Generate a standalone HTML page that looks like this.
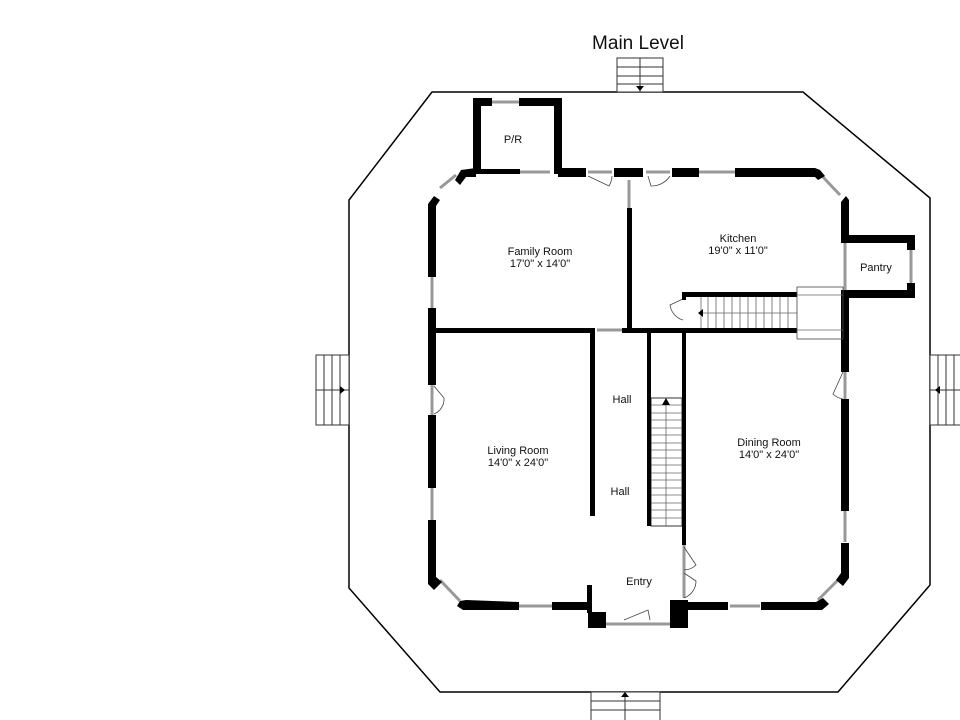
<!DOCTYPE html>
<html><head><meta charset="utf-8"><style>
html,body{margin:0;padding:0;background:#fff;}
svg{display:block;}
text{font-family:"Liberation Sans",sans-serif;fill:#111;}
</style></head><body>
<svg width="960" height="720" viewBox="0 0 960 720" xmlns="http://www.w3.org/2000/svg">
<rect width="960" height="720" fill="#fff"/>
<text x="638" y="49" font-size="19" text-anchor="middle">Main Level</text>

<!-- deck outline -->
<polygon points="432,92 803,92 930,198 930,585 838,692 440,692 349,588 349,200" fill="none" stroke="#000" stroke-width="1.5"/>

<!-- exterior stairs -->
<g fill="#fff" stroke="#333" stroke-width="1">
<rect x="617" y="58" width="46" height="34"/>
<line x1="640" y1="58" x2="640" y2="92"/><line x1="617" y1="67" x2="663" y2="67"/><line x1="617" y1="76" x2="663" y2="76"/><line x1="617" y1="84" x2="663" y2="84"/>
<rect x="316" y="355" width="33" height="70"/>
<line x1="316" y1="390" x2="349" y2="390"/><line x1="324" y1="355" x2="324" y2="425"/><line x1="332" y1="355" x2="332" y2="425"/><line x1="340" y1="355" x2="340" y2="425"/>
<rect x="930" y="355" width="32" height="70"/>
<line x1="930" y1="390" x2="962" y2="390"/><line x1="938" y1="355" x2="938" y2="425"/><line x1="946" y1="355" x2="946" y2="425"/><line x1="954" y1="355" x2="954" y2="425"/>
<rect x="591" y="692" width="69" height="30"/>
<line x1="625" y1="692" x2="625" y2="720"/><line x1="591" y1="701" x2="660" y2="701"/><line x1="591" y1="710" x2="660" y2="710"/>
</g>
<g fill="#000">
<polygon points="636,86 644,86 640,91"/>
<polygon points="340,386 340,394 345,390"/>
<polygon points="940,386 940,394 935,390"/>
<polygon points="621,697 629,697 625,692"/>
</g>

<!-- windows (thin grey) -->
<g stroke="#999" stroke-width="3" fill="none">
<line x1="492" y1="102" x2="519" y2="102"/>
<line x1="520" y1="172" x2="550" y2="172"/>
<line x1="588" y1="172" x2="612" y2="172"/>
<line x1="646" y1="172" x2="670" y2="172"/>
<line x1="698" y1="172" x2="735" y2="172"/>
<line x1="440" y1="188" x2="456" y2="175"/>
<line x1="822" y1="176" x2="840" y2="195"/>
<line x1="432" y1="277" x2="432" y2="308"/>
<line x1="432" y1="385" x2="432" y2="415"/>
<line x1="432" y1="488" x2="432" y2="520"/>
<line x1="440" y1="580" x2="460" y2="601"/>
<line x1="519" y1="606" x2="552" y2="606"/>
<line x1="606" y1="624" x2="670" y2="624"/>
<line x1="730" y1="606" x2="760" y2="606"/>
<line x1="818" y1="600" x2="838" y2="580"/>
<line x1="845" y1="372" x2="845" y2="399"/>
<line x1="845" y1="511" x2="845" y2="542"/>
<line x1="845" y1="243" x2="845" y2="290"/>
<line x1="911" y1="250" x2="911" y2="283"/>
<line x1="597" y1="330" x2="622" y2="330"/>
<line x1="629" y1="180" x2="629" y2="208"/>
<line x1="684" y1="545" x2="684" y2="598"/>
</g>

<!-- door swings -->
<g stroke="#444" stroke-width="0.8" fill="none">
<path d="M588,176 L609,186 A22,22 0 0 0 612,176"/>
<path d="M648,176 L651,186 A22,22 0 0 0 670,176"/>
<path d="M434,386 L444,398 A16,16 0 0 1 434,414"/>
<path d="M843,372 L833,394 A18,18 0 0 0 843,399"/>
<path d="M684,547 L696,565 A18,18 0 0 1 684,570"/>
<path d="M684,573 L696,581 A18,18 0 0 1 684,598"/>
<path d="M624,620 L648,610 L650,620"/>
<path d="M685,298 L670,305 A18,18 0 0 0 683,320"/>
</g>

<!-- thick walls -->
<g fill="#000">
<!-- P/R -->
<rect x="473" y="98" width="8" height="76"/>
<rect x="473" y="98" width="19" height="8"/>
<rect x="519" y="98" width="43" height="8"/>
<rect x="554" y="98" width="8" height="76"/>
<rect x="478" y="169" width="42" height="5"/>
<!-- top wall -->
<polygon points="461,170 476,168 476,177 466,177 460,185 455,180"/>
<rect x="558" y="168" width="28" height="9"/>
<rect x="614" y="168" width="29" height="9"/>
<rect x="672" y="168" width="27" height="9"/>
<rect x="735" y="168" width="80" height="9"/>
<polygon points="815,168 820,170 825,176 818,180 815,177"/>
<!-- left wall -->
<polygon points="428,204 434,196 440,200 436,206 436,277 428,277"/>
<rect x="428" y="308" width="8" height="77"/>
<rect x="428" y="415" width="8" height="73"/>
<rect x="428" y="520" width="8" height="58"/>
<polygon points="428,578 436,578 436,577 442,582 434,590 428,584"/>
<!-- bottom wall -->
<polygon points="460,601 466,600 519,602 519,610 463,610 457,606"/>
<rect x="552" y="602" width="40" height="8"/>
<rect x="587" y="585" width="5" height="28"/>
<rect x="588" y="612" width="18" height="16"/>
<rect x="670" y="600" width="18" height="28"/>
<rect x="682" y="602" width="46" height="8"/>
<rect x="761" y="602" width="55" height="8"/>
<polygon points="816,602 823,598 829,604 822,610 816,610"/>
<!-- right wall -->
<polygon points="841,202 846,196 849,200 849,240 841,240"/>
<rect x="841" y="290" width="8" height="82"/>
<rect x="841" y="399" width="8" height="112"/>
<rect x="841" y="543" width="8" height="30"/>
<polygon points="841,573 849,573 849,578 843,586 836,580"/>
<!-- pantry -->
<rect x="841" y="235" width="74" height="8"/>
<rect x="907" y="235" width="8" height="15"/>
<rect x="907" y="283" width="8" height="15"/>
<rect x="848" y="290" width="67" height="8"/>
<!-- interior -->
<rect x="436" y="328" width="159" height="5"/>
<rect x="622" y="328" width="175" height="5"/>
<rect x="627" y="208" width="5" height="122"/>
<rect x="682" y="292" width="115" height="5"/>
<rect x="682" y="292" width="4" height="8"/>
<rect x="590" y="333" width="5" height="183"/>
<rect x="647" y="333" width="4" height="193"/>
<rect x="682" y="333" width="4" height="212"/>
</g>

<!-- interior stairs -->
<g stroke="#666" stroke-width="0.8" fill="none">
<rect x="651" y="398" width="31" height="128" stroke="#000"/>
<line x1="666" y1="402" x2="666" y2="526"/>
<line x1="651" y1="405" x2="682" y2="405"/><line x1="651" y1="413" x2="682" y2="413"/><line x1="651" y1="420" x2="682" y2="420"/><line x1="651" y1="428" x2="682" y2="428"/><line x1="651" y1="435" x2="682" y2="435"/><line x1="651" y1="443" x2="682" y2="443"/><line x1="651" y1="450" x2="682" y2="450"/><line x1="651" y1="458" x2="682" y2="458"/><line x1="651" y1="465" x2="682" y2="465"/><line x1="651" y1="473" x2="682" y2="473"/><line x1="651" y1="480" x2="682" y2="480"/><line x1="651" y1="488" x2="682" y2="488"/><line x1="651" y1="495" x2="682" y2="495"/><line x1="651" y1="503" x2="682" y2="503"/><line x1="651" y1="510" x2="682" y2="510"/><line x1="651" y1="518" x2="682" y2="518"/>
<line x1="700" y1="313" x2="797" y2="313"/>
<line x1="701" y1="297" x2="701" y2="328"/><line x1="708" y1="297" x2="708" y2="328"/><line x1="716" y1="297" x2="716" y2="328"/><line x1="724" y1="297" x2="724" y2="328"/><line x1="732" y1="297" x2="732" y2="328"/><line x1="740" y1="297" x2="740" y2="328"/><line x1="748" y1="297" x2="748" y2="328"/><line x1="756" y1="297" x2="756" y2="328"/><line x1="764" y1="297" x2="764" y2="328"/><line x1="772" y1="297" x2="772" y2="328"/><line x1="780" y1="297" x2="780" y2="328"/><line x1="788" y1="297" x2="788" y2="328"/>
<rect x="797" y="287" width="46" height="52" stroke="#444"/>
<line x1="797" y1="295" x2="843" y2="295"/><line x1="797" y1="330" x2="843" y2="330"/>
</g>
<g fill="#000">
<polygon points="662,405 670,405 666,398"/>
<polygon points="703,309 703,317 698,313"/>
</g>

<!-- labels -->
<g font-size="11" text-anchor="middle">
<text x="513" y="143">P/R</text>
<text x="540" y="255">Family Room</text>
<text x="540" y="267">17'0" x 14'0"</text>
<text x="738" y="242">Kitchen</text>
<text x="738" y="254">19'0" x 11'0"</text>
<text x="876" y="271">Pantry</text>
<text x="518" y="454">Living Room</text>
<text x="518" y="466">14'0" x 24'0"</text>
<text x="622" y="403">Hall</text>
<text x="620" y="495">Hall</text>
<text x="639" y="585">Entry</text>
<text x="769" y="446">Dining Room</text>
<text x="769" y="458">14'0" x 24'0"</text>
</g>
</svg>
</body></html>
